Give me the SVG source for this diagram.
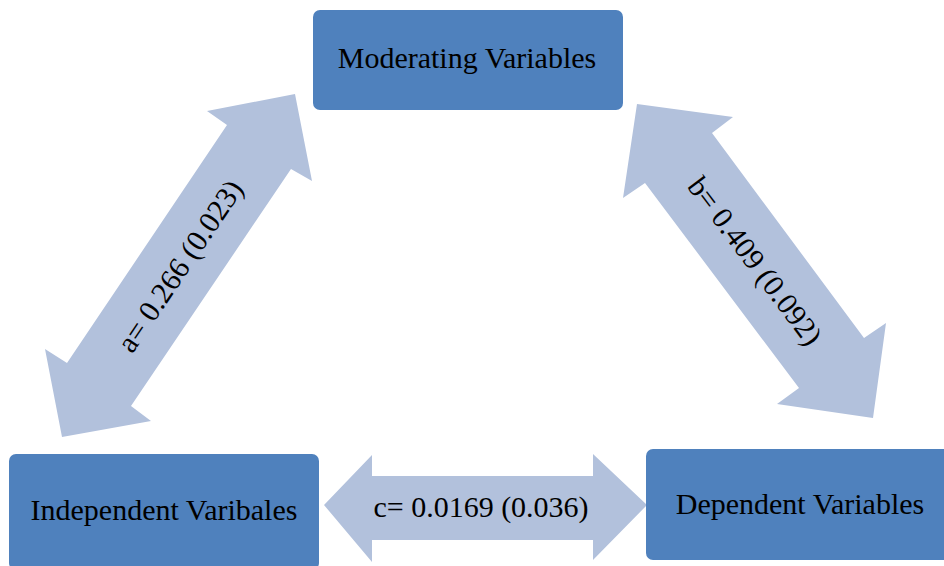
<svg xmlns="http://www.w3.org/2000/svg" width="944" height="566" viewBox="0 0 944 566">
<style>
.box{fill:#4F81BD;}
.arr{fill:#B2C1DC;}
text{font-family:"Liberation Serif","Times New Roman",serif;font-size:30px;fill:#000;text-anchor:middle;}
</style>
<rect width="944" height="566" fill="#fff"/>
<g id="connectors">
<g id="arrow-a">
<polygon class="arr" points="295,94 312,181 291,169 131,406 151,421 62,437 45,349 67,363 227,125 207,111"/>
<text transform="translate(180,266) rotate(-56)" y="10">a= 0.266 (0.023)</text>
</g>
<g id="arrow-b">
<polygon class="arr" points="637,104 733,117 712,133 864,338 886,323 873,418 777,404 799,388 645,183 623,198"/>
<text transform="translate(755,261) rotate(53)" y="10">b= 0.409 (0.092)</text>
</g>
<g id="arrow-c">
<polygon class="arr" points="324,505 372,455 372,476 593,476 593,454 647,505 593,560 593,540 372,540 372,562"/>
<text x="481" y="517">c= 0.0169 (0.036)</text>
</g>
</g>
<g id="node-moderating">
<rect class="box" x="313" y="10" width="310" height="100" rx="7"/>
<text x="467" y="68">Moderating Variables</text>
</g>
<g id="node-independent">
<rect class="box" x="9" y="454" width="310" height="116" rx="7"/>
<text x="164" y="520">Independent Varibales</text>
</g>
<g id="node-dependent">
<rect class="box" x="646" y="449" width="310" height="111" rx="7"/>
<text x="800" y="514">Dependent Variables</text>
</g>
</svg>
